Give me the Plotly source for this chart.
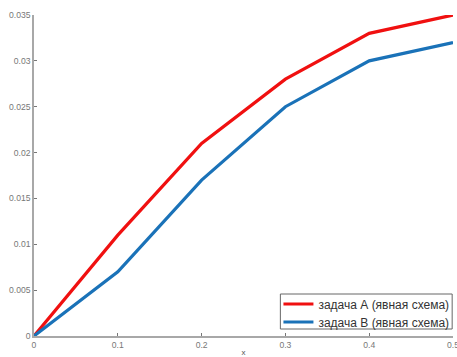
import plotly.graph_objects as go

x_vals = [0, 0.1, 0.2, 0.3, 0.4, 0.5]
series_a = [0, 0.011, 0.021, 0.028, 0.033, 0.035]
series_b = [0, 0.007, 0.017, 0.025, 0.030, 0.032]
name_a = "задача А (явная схема)"
name_b = "задача В (явная схема)"
x_ticks = [0, 0.1, 0.2, 0.3, 0.4, 0.5]
x_tick_text = ["0", "0.1", "0.2", "0.3", "0.4", "0.5"]
y_ticks = [0, 0.005, 0.01, 0.015, 0.02, 0.025, 0.03, 0.035]
y_tick_text = ["0", "0.005", "0.01", "0.015", "0.02", "0.025", "0.03", "0.035"]

fig = go.Figure()
fig.add_trace(go.Scatter(x=x_vals, y=series_a, mode="lines", name=name_a,
                         line=dict(color="#f01010", width=3.2), legend="legend"))
fig.add_trace(go.Scatter(x=x_vals, y=series_b, mode="lines", name=name_b,
                         line=dict(color="#1a72b8", width=3.2), legend="legend2"))

axis_color = "#a8a8a8"
leg_font = dict(size=12, color="#333333", family="Liberation Sans, Arial, sans-serif")
leg_common = dict(xanchor="left", yanchor="middle", bgcolor="rgba(0,0,0,0)",
                  borderwidth=0, font=leg_font, itemwidth=30)

fig.update_layout(
    template="none",
    width=457, height=357,
    margin=dict(l=34, r=3, t=15, b=21),
    paper_bgcolor="white", plot_bgcolor="white",
    font=dict(family="Liberation Sans, Arial, sans-serif", color="#777777", size=8.6),
    showlegend=True,
    legend=dict(x=0.582, y=0.0997, **leg_common),
    legend2=dict(x=0.582, y=0.0436, **leg_common),
    shapes=[dict(type="rect", xref="paper", yref="paper",
                 x0=0.588, x1=0.998, y0=0.0218, y1=0.1308,
                 line=dict(color="#666666", width=1), fillcolor="white", layer="above")],
    xaxis=dict(range=[0, 0.5], tickvals=x_ticks, ticktext=x_tick_text,
               showgrid=False, zeroline=False, showline=True, linecolor=axis_color,
               linewidth=1.5, ticks="inside", ticklen=3, tickcolor="#777777",
               ticklabeloverflow="allow", automargin=False,
               title=dict(text="x", font=dict(size=8, color="#555555"), standoff=2)),
    yaxis=dict(range=[0, 0.035], tickvals=y_ticks, ticktext=y_tick_text,
               showgrid=False, zeroline=False, showline=True, linecolor=axis_color,
               linewidth=1.5, ticks="inside", ticklen=3, tickcolor="#777777",
               automargin=False),
)
fig.write_html("out.html")
